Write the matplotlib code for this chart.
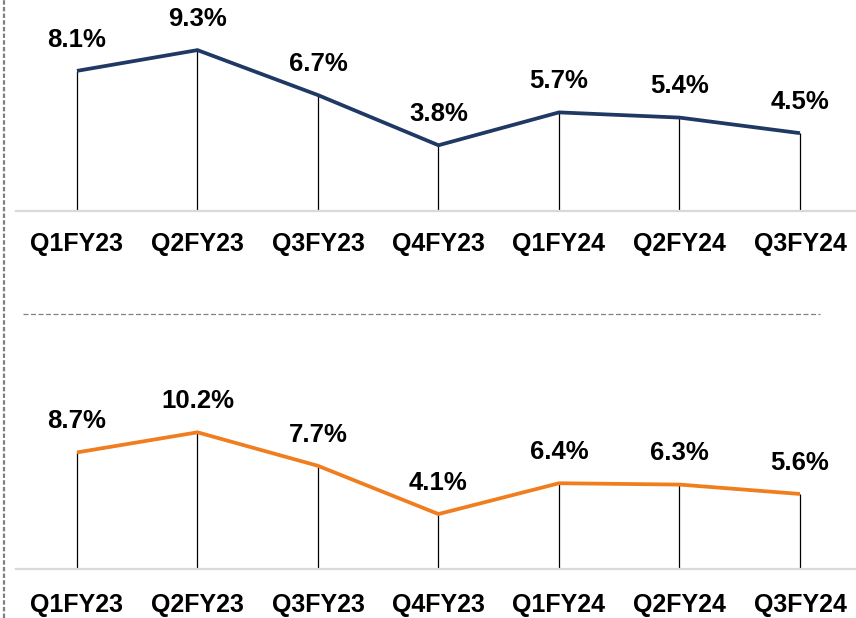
import matplotlib
matplotlib.use("Agg")
import matplotlib.pyplot as plt
from matplotlib.lines import Line2D

quarters = ["Q1FY23", "Q2FY23", "Q3FY23", "Q4FY23", "Q1FY24", "Q2FY24", "Q3FY24"]
top_values = [8.1, 9.3, 6.7, 3.8, 5.7, 5.4, 4.5]
bottom_values = [8.7, 10.2, 7.7, 4.1, 6.4, 6.3, 5.6]
top_color = "#1f3864"
bottom_color = "#f07d1e"

plt.rcParams['font.family'] = ['Liberation Sans', 'DejaVu Sans']

W, H = 856, 618
fig = plt.figure(figsize=(W / 100, H / 100), dpi=100)


def make_axes(left_px, right_px, top_px, base_px):
    return fig.add_axes([left_px / W, (H - base_px) / H,
                         (right_px - left_px) / W, (base_px - top_px) / H])


def draw(ax, values, color, px_per_unit, base_px, top_px, pad):
    x = list(range(len(values)))
    ax.vlines(x, 0, values, color="black", lw=0.9, zorder=2)
    ax.plot(x, values, color=color, lw=2.7, solid_capstyle="butt",
            solid_joinstyle="miter", zorder=3)
    for xi, v in zip(x, values):
        ax.annotate(f"{v:.1f}%", (xi, v), xytext=(0, 22.5), textcoords="offset points",
                    ha="center", va="center", fontsize=18.5, fontweight="bold",
                    color="black")
    ax.set_ylim(0, (base_px - top_px) / px_per_unit)
    ax.set_xlim(-0.506, 6.465)
    ax.set_xticks(x)
    ax.set_xticklabels(quarters, fontsize=18, fontweight="bold")
    ax.tick_params(axis="x", length=0, pad=pad)
    ax.set_yticks([])
    for s in ["top", "left", "right"]:
        ax.spines[s].set_visible(False)
    ax.spines["bottom"].set_color("#d9d9d9")
    ax.spines["bottom"].set_linewidth(1.6)
    ax.patch.set_alpha(0)


ax1 = make_axes(16, 856, 0, 211)
draw(ax1, top_values, top_color, 17.3, 211, 0, 15)

ax2 = make_axes(16, 856, 330, 569)
draw(ax2, bottom_values, bottom_color, 13.4, 569, 330, 17)

# decorative dashed lines
fig.add_artist(Line2D([4 / W, 4 / W], [0, 1], transform=fig.transFigure,
                      color="#808080", lw=1.6, ls=(0, (2, 1))))
fig.add_artist(Line2D([23 / W, 820 / W], [(H - 314) / H, (H - 314) / H],
                      transform=fig.transFigure, color="#808080", lw=0.9,
                      ls=(0, (4, 2))))

fig.savefig("out.png", dpi=100)
